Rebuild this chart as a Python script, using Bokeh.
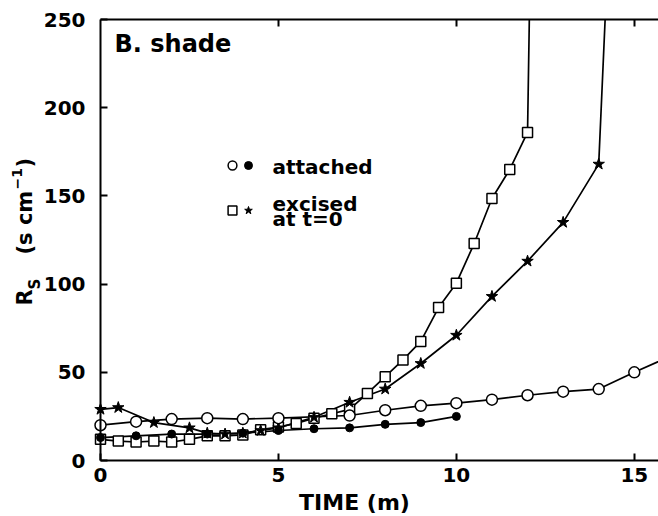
from math import pi
from bokeh.plotting import figure
from bokeh.models import Range1d, LinearAxis, Label, Legend, LegendItem, FixedTicker
from bokeh.embed import file_html
from bokeh.resources import INLINE

# ---- data ----
att_open_t = [0, 1, 2, 3, 4, 5, 7, 8, 9, 10, 11, 12, 13, 14, 15, 16]
att_open_v = [20, 22, 23.5, 24, 23.5, 24, 25.5, 28.5, 31, 32.5, 34.5, 37, 39, 40.5, 50, 59]

att_fill_t = [0, 1, 2, 3, 4, 5, 6, 7, 8, 9, 10]
att_fill_v = [13, 14, 15, 15, 15.5, 17, 18, 18.5, 20.5, 21.5, 25]

# last point of each excised series: where the curve leaves the top of the chart
exc_sq_t = [0, 0.5, 1, 1.5, 2, 2.5, 3, 3.5, 4, 4.5, 5, 5.5, 6, 6.5, 7, 7.5, 8, 8.5, 9, 9.5,
            10, 10.5, 11, 11.5, 12, 12.05]
exc_sq_v = [12, 11, 10.5, 11, 10.5, 12, 14, 14, 14.5, 17.5, 19, 21, 24, 26.5, 29, 38, 47.5, 57,
            67.5, 86.7, 100.5, 123, 148.5, 165, 186, 250]

exc_star_t = [0, 0.5, 1.5, 2.5, 3, 3.5, 4, 4.5, 5, 6, 7, 8, 9, 10, 11, 12, 13, 14, 14.18]
exc_star_v = [29, 30, 21.5, 18.5, 15.5, 15, 15.5, 17, 18.5, 24.5, 33, 40.5, 55, 71, 93, 113, 135,
              168, 250]

x_ticks = [0, 5, 10, 15]
y_ticks = [0, 50, 100, 150, 200, 250]
X_MIN, X_MAX, Y_MIN, Y_MAX = 0, 15.68, 0, 250

# ---- layout: the plotting frame covers the whole canvas, axes are fixed in it ----
W, H = 658, 516
FL, FT, FB = 100, 19, 460          # pixel positions of x=0, y=250, y=0
FONT = "DejaVu Sans"


def dx(px):
    return X_MIN + (px - FL) / (W - FL) * (X_MAX - X_MIN)


def dy(py):
    return Y_MIN + (FB - py) / (FB - FT) * (Y_MAX - Y_MIN)


p = figure(width=W, height=H, x_range=Range1d(dx(0), dx(W)), y_range=Range1d(dy(H), dy(0)),
           output_backend="svg", toolbar_location=None,
           min_border_left=0, min_border_right=0, min_border_top=0, min_border_bottom=0,
           x_axis_location=None, y_axis_location=None)
p.outline_line_color = None
p.grid.visible = False
p.background_fill_color = "white"
p.border_fill_color = "white"


def style(ax):
    ax.axis_line_width = 2
    ax.major_tick_line_width = 2
    ax.major_tick_in = 7
    ax.major_tick_out = 0
    ax.minor_tick_line_width = 2
    ax.minor_tick_in = 7
    ax.minor_tick_out = 0
    ax.major_label_text_font = FONT
    ax.major_label_text_font_style = "bold"
    ax.major_label_text_font_size = "20px"
    ax.major_label_text_color = "black"
    return ax


xa = style(LinearAxis(ticker=FixedTicker(ticks=x_ticks), fixed_location=Y_MIN,
                      bounds=(X_MIN, X_MAX), major_label_standoff=7))
ya = style(LinearAxis(ticker=FixedTicker(ticks=y_ticks), fixed_location=X_MIN,
                      bounds=(Y_MIN, Y_MAX), major_label_standoff=15))
ta = style(LinearAxis(ticker=FixedTicker(ticks=[], minor_ticks=[5, 10, 15]),
                      fixed_location=Y_MAX, bounds=(X_MIN, X_MAX)))
p.add_layout(xa, "below")
p.add_layout(ya, "left")
p.add_layout(ta, "above")

LW = 1.7
p.line(exc_sq_t, exc_sq_v, line_color="black", line_width=LW)
p.line(exc_star_t, exc_star_v, line_color="black", line_width=LW)
p.line(att_fill_t, att_fill_v, line_color="black", line_width=LW)
p.line(att_open_t, att_open_v, line_color="black", line_width=LW)


def on_chart(ts, vs):
    pts = [(t, v) for t, v in zip(ts, vs) if v < Y_MAX]
    return [a for a, _ in pts], [b for _, b in pts]


sq_t, sq_v = on_chart(exc_sq_t, exc_sq_v)
st_t, st_v = on_chart(exc_star_t, exc_star_v)
r_sq = p.scatter(sq_t, sq_v, marker="square", size=10, fill_color="white",
                 line_color="black", line_width=1.5)
r_star = p.scatter(st_t, st_v, marker="star", size=12, fill_color="black",
                   line_color="black", line_width=1)
r_fill = p.scatter(att_fill_t, att_fill_v, marker="circle", size=8, fill_color="black",
                   line_color="black", line_width=1)
r_open = p.scatter(att_open_t, att_open_v, marker="circle", size=11, fill_color="white",
                   line_color="black", line_width=1.5)


def key_legend(renderers, cx, g):
    leg = Legend(items=[LegendItem(label="", renderers=[r]) for r in renderers],
                 location=(cx - g / 2, H - (210 + g / 2)), orientation="vertical",
                 glyph_width=g, glyph_height=g, spacing=45 - g, padding=0, margin=0,
                 border_line_color=None, background_fill_alpha=0, label_standoff=0,
                 label_width=0, label_height=0)
    p.add_layout(leg)


key_legend([r_open, r_sq], 232, 22)
key_legend([r_fill, r_star], 248, 20)


def lab(text, px, py, size, angle=0, align="left"):
    p.add_layout(Label(x=dx(px), y=dy(py), text=text, text_font=FONT, text_font_style="bold",
                       text_font_size=f"{size}px", text_color="black", angle=angle,
                       text_align=align, text_baseline="middle"))


lab("B. shade", 114, 43, 24)
lab("attached", 272, 166, 20)
lab("excised", 272, 203, 20)
lab("at t=0", 272, 218, 20)
lab("TIME (m)", 354, 502, 22, align="center")

# y axis label: R_S (s cm^-1), rotated
lab("R", 24, 305, 21, angle=pi / 2)
lab("S", 34, 289, 15, angle=pi / 2)
lab("(s cm", 24, 254, 21, angle=pi / 2)
lab("\u22121", 16, 189, 14, angle=pi / 2)
lab(")", 24, 167, 21, angle=pi / 2)

open("out.html", "w").write(file_html(p, INLINE))
